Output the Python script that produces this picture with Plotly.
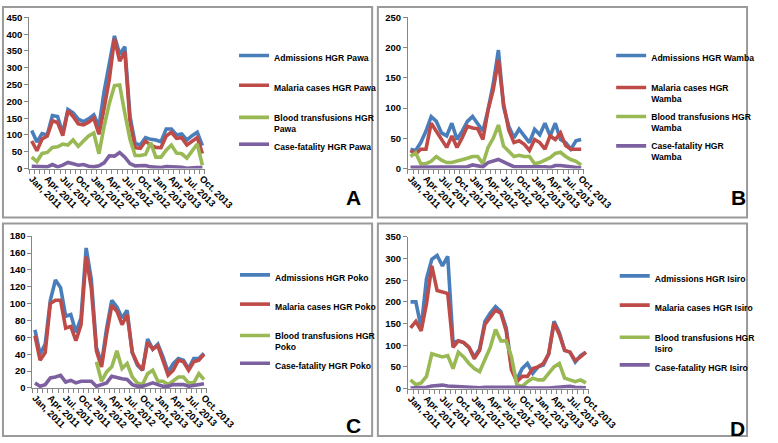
import plotly.graph_objects as go

W, H = 778, 443

# ---------------- data (monthly, Jan 2011 .. Oct 2013) ----------------
months = list(range(34))
tick_idx = [0, 3, 6, 9, 12, 15, 18, 21, 24, 27, 30, 33]
tick_text = ["Jan, 2011", "Apr. 2011", "Jul. 2011", "Oct. 2011",
             "Jan, 2012", "Apr. 2012", "Jul. 2012", "Oct. 2012",
             "Jan, 2013", "Apr. 2013", "Jul. 2013", "Oct. 2013"]

pawa_adm = [113, 79, 104, 100, 158, 155, 105, 176, 166, 147, 140, 148, 160, 125, 230, 310, 395,
            340, 363, 155, 75, 70, 92, 87, 85, 80, 118, 118, 100, 103, 85, 98, 108, 68]
pawa_mal = [82, 53, 88, 97, 142, 137, 98, 172, 155, 133, 130, 138, 150, 102, 180, 265, 387,
            320, 348, 140, 62, 60, 82, 70, 63, 62, 97, 108, 90, 92, 70, 82, 92, 45]
pawa_bt = [34, 21, 45, 48, 63, 65, 73, 70, 85, 66, 82, 97, 106, 44, 126, 194, 247,
           249, 165, 87, 39, 39, 42, 77, 34, 34, 55, 70, 46, 44, 31, 50, 73, 10]
pawa_cf = [7, 6, 5, 5, 12, 5, 10, 18, 14, 10, 12, 7, 5, 8, 17, 38, 37,
           48, 34, 15, 8, 8, 9, 5, 3, 3, 6, 6, 5, 4, 1, 3, 3, 3]

wamba_adm = [32, 30, 43, 62, 86, 78, 59, 54, 75, 48, 62, 78, 86, 75, 62, 97, 140,
             196, 102, 70, 51, 65, 54, 43, 65, 56, 75, 54, 75, 48, 43, 32, 46, 48]
wamba_mal = [30, 24, 32, 32, 75, 62, 48, 35, 54, 35, 51, 70, 67, 66, 48, 97, 130,
             180, 107, 64, 43, 46, 40, 30, 48, 43, 32, 54, 48, 59, 38, 32, 32, 32]
wamba_bt = [20, 26, 8, 8, 12, 20, 14, 10, 10, 12, 14, 17, 20, 20, 8, 35, 50,
            72, 37, 28, 20, 22, 20, 20, 8, 10, 14, 18, 25, 27, 20, 15, 12, 6]
wamba_cf = [2, 2, 2, 2, 2, 3, 3, 3, 3, 2, 2, 3, 6, 4, 3, 10, 12,
            15, 11, 7, 3, 3, 3, 3, 3, 4, 3, 2, 5, 5, 4, 3, 2, 1]

poko_adm = [69, 40, 52, 104, 128, 119, 85, 87, 66, 83, 166, 129, 48, 29, 71, 104, 96,
            83, 92, 42, 27, 21, 58, 46, 52, 37, 19, 29, 35, 33, 23, 35, 35, 41]
poko_mal = [62, 33, 42, 100, 104, 104, 71, 73, 56, 75, 156, 118, 44, 25, 64, 98, 91,
            75, 87, 42, 29, 21, 54, 46, 50, 33, 15, 21, 33, 31, 21, 31, 33, 40]
poko_bt = [None] * 12 + [31, 8, 19, 25, 44, 23, 29, 13, 6, 4, 17, 21, 8, 8, 4, 8, 13, 13, 6, 6, 17, 10]
poko_cf = [6, 2, 4, 12, 13, 15, 7, 9, 6, 8, 8, 8, 2, 4, 6, 14, 12,
           11, 10, 4, 2, 2, 4, 6, 4, 2, 2, 4, 4, 4, 2, 3, 4, 5]

isiro_adm = [200, 200, 140, 253, 298, 307, 283, 305, 106, 110, 106, 95, 73, 91, 155, 174, 189,
             178, 140, 50, 20, 46, 58, 35, 50, 54, 80, 155, 129, 88, 84, 61, 76, 84]
isiro_mal = [140, 155, 133, 196, 283, 226, 223, 219, 95, 110, 106, 95, 69, 88, 148, 166, 181,
             174, 133, 43, 16, 28, 28, 46, 50, 58, 80, 151, 125, 88, 84, 65, 73, 84]
isiro_bt = [20, 9, 13, 28, 80, 76, 73, 76, 46, 84, 73, 58, 46, 39, 65, 95, 136,
            110, 110, 73, 9, 5, 16, 24, 20, 20, 35, 50, 58, 24, 20, 16, 20, 13]
isiro_cf = [1, 1, 2, 3, 6, 8, 8, 6, 5, 4, 3, 3, 2, 2, 3, 3, 4,
            5, 5, 5, 4, 3, 2, 1, 1, 1, 1, 2, 3, 4, 5, 3, 2, 2]

# ---------------- styling / layout ----------------
colors = ["#4A7EBB", "#BE4B48", "#98B954", "#7D60A0"]
FONT = "Liberation Sans, Arial, sans-serif"
AXC = "#868686"

panels = [
    dict(name="Pawa", letter="A", series=[pawa_adm, pawa_mal, pawa_bt, pawa_cf],
         px=(28.3, 211.7), py=(11.7, 166.7), yr=(0, 450), dt=50,
         names=["Admissions HGR Pawa", "Malaria cases HGR Pawa",
                "Blood transfusions HGR<br>Pawa", "Case-fatality HGR Pawa"],
         leg_x=274, leg_y=[56.7, 87.3, 123.8, 147.7], letter_xy=(366.7, 196.7),
         frame=(1, 1, 386, 217)),
    dict(name="Wamba", letter="B", series=[wamba_adm, wamba_mal, wamba_bt, wamba_cf],
         px=(423.3, 606.7), py=(11.7, 166.7), yr=(0, 250), dt=50,
         names=["Admissions HGR Wamba", "Malaria cases HGR<br>Wamba",
                "Blood transfusions HGR<br>Wamba", "Case-fatality HGR<br>Wamba"],
         leg_x=667.3, leg_y=[56.7, 93.2, 122.8, 153.0], letter_xy=(768.0, 196.0),
         frame=(392, 1, 777, 217)),
    dict(name="Poko", letter="C", series=[poko_adm, poko_mal, poko_bt, poko_cf],
         px=(31.7, 213.3), py=(236.0, 391.7), yr=(0, 180), dt=20,
         names=["Admissions HGR Poko", "Malaria cases HGR Poko",
                "Blood transfusions HGR<br>Poko", "Case-fatality HGR Poko"],
         leg_x=275, leg_y=[281.7, 311.7, 347.5, 372.3], letter_xy=(366.7, 430.0),
         frame=(1, 223, 386, 441)),
    dict(name="Isiro", letter="D", series=[isiro_adm, isiro_mal, isiro_bt, isiro_cf],
         px=(423.3, 611.7), py=(236.7, 392.3), yr=(0, 350), dt=50,
         names=["Admissions HGR Isiro", "Malaria cases HGR Isiro",
                "Blood transfusions HGR<br>Isiro", "Case-fatality HGR Isiro"],
         leg_x=671, leg_y=[282.7, 312.7, 349.2, 374.0], letter_xy=(766.7, 433.3),
         frame=(392, 223, 777, 441)),
]

fig = go.Figure()
layout = dict(width=W, height=H, margin=dict(l=0, r=0, t=0, b=0),
              paper_bgcolor="white", plot_bgcolor="white", showlegend=True,
              shapes=[], annotations=[])

leg_n = 0
for k, p in enumerate(panels):
    sfx = "" if k == 0 else str(k + 1)
    xa, ya = "xaxis" + sfx, "yaxis" + sfx
    x0, x1 = p["px"]
    y0, y1 = p["py"]
    layout[xa] = dict(domain=[x0 / W, x1 / W], anchor="y" + sfx, range=[-0.5, 33.5],
                      tickmode="array", tickvals=tick_idx, ticktext=tick_text,
                      tickangle=45, ticks="", showgrid=False, zeroline=False,
                      showline=True, linecolor=AXC, linewidth=1,
                      tickfont=dict(family=FONT, size=9.4, color="black", weight="bold"),
                      minor=dict(ticks="outside", tickmode="linear", tick0=-0.5, dtick=1,
                                 ticklen=4, tickcolor=AXC, showgrid=False))
    layout[ya] = dict(domain=[1 - y1 / H, 1 - y0 / H], anchor="x" + sfx,
                      range=list(p["yr"]), dtick=p["dt"], tick0=0,
                      ticks="outside", ticklen=4, tickcolor=AXC, showgrid=False,
                      zeroline=False, showline=True, linecolor=AXC, linewidth=1,
                      tickfont=dict(family=FONT, size=9.5, color="black", weight="bold"))
    for j, (vals, nm) in enumerate(zip(p["series"], p["names"])):
        leg_n += 1
        lg = "legend" if leg_n == 1 else "legend%d" % leg_n
        fig.add_trace(go.Scatter(x=months, y=vals, mode="lines", name=nm,
                                 xaxis="x" + sfx, yaxis="y" + sfx, legend=lg,
                                 line=dict(color=colors[j], width=3.6),
                                 connectgaps=False, hoverinfo="skip"))
        layout[lg] = dict(x=(p["leg_x"] - 32) / W, y=1 - (p["leg_y"][j] - 3.5) / H,
                          xanchor="left", yanchor="middle", bgcolor="rgba(0,0,0,0)",
                          valign="top", borderwidth=0,
                          font=dict(family=FONT, size=8.6, color="black", weight="bold"))
    fx0, fy0, fx1, fy1 = p["frame"]
    layout["shapes"].append(dict(type="rect", xref="paper", yref="paper",
                                 x0=fx0 / W, x1=fx1 / W, y0=1 - fy1 / H, y1=1 - fy0 / H,
                                 line=dict(color="#9A9A9A", width=2), fillcolor="rgba(0,0,0,0)"))
    lx, ly = p["letter_xy"]
    layout["annotations"].append(dict(text="<b>%s</b>" % p["letter"], xref="paper", yref="paper",
                                      x=lx / W, y=1 - ly / H, xanchor="center", yanchor="middle",
                                      showarrow=False,
                                      font=dict(family="Liberation Sans, Arial", size=21, color="black")))

fig.update_layout(**layout)
fig.write_html("out.html", config={"displayModeBar": False},
               post_script="document.body.style.margin='0px';")
